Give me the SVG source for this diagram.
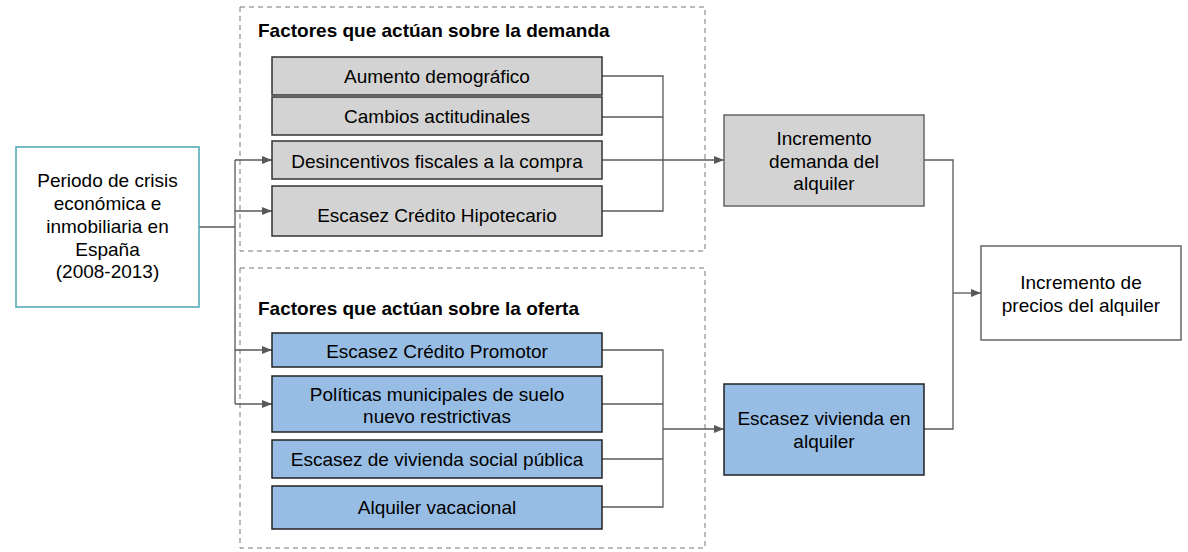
<svg xmlns="http://www.w3.org/2000/svg" width="1188" height="552" viewBox="0 0 1188 552">
<defs>
<marker id="ah" markerWidth="10" markerHeight="8" refX="10" refY="4" orient="auto" markerUnits="userSpaceOnUse"><path d="M0,0 L10,4 L0,8 Z" fill="#595959"/></marker>
<style>
text{font-family:"Liberation Sans",Arial,sans-serif;font-size:19px;fill:#000;text-anchor:middle}
.title{font-weight:bold;font-size:19px;text-anchor:start}
.grp{fill:none;stroke:#777;stroke-width:1;stroke-dasharray:5,4}
.gray{fill:#d3d3d3;stroke:#333;stroke-width:1.5}
.blue{fill:#97bde4;stroke:#222;stroke-width:1.5}
.gbox{fill:#d3d3d3;stroke:#666;stroke-width:1.5}
.wbox{fill:#fff;stroke:#666;stroke-width:1.5}
.tbox{fill:#fff;stroke:#4aa6b3;stroke-width:1.5}
.c{fill:none;stroke:#595959;stroke-width:1.3}
.ca{fill:none;stroke:#595959;stroke-width:1.3;marker-end:url(#ah)}
</style>
</defs>
<rect class="grp" x="240" y="7" width="465" height="244"/>
<rect class="grp" x="240" y="268" width="465" height="280"/>
<text class="title" x="258" y="37">Factores que actúan sobre la demanda</text>
<text class="title" x="258" y="315">Factores que actúan sobre la oferta</text>
<g id="connectors">
<path class="c" d="M199,227 H235 M235,160 V404"/>
<path class="ca" d="M235,160 H272"/>
<path class="ca" d="M235,211 H272"/>
<path class="ca" d="M235,350 H272"/>
<path class="ca" d="M235,404 H272"/>
<path class="c" d="M602,76 H663 V211 H602 M602,117 H663"/>
<path class="ca" d="M602,160 H724"/>
<path class="c" d="M602,350 H663 V507 H602 M602,404 H663 M602,459 H663"/>
<path class="ca" d="M663,429 H724"/>
<path class="c" d="M924,160 H953 V429 H924"/>
<path class="ca" d="M953,293 H981"/>
</g>
<g id="crisis"><rect class="tbox" x="16" y="147" width="183" height="160"/>
<text x="107.5" y="187">Periodo de crisis</text><text x="107.5" y="210">económica e</text><text x="107.5" y="233">inmobiliaria en</text><text x="107.5" y="255.5">España</text><text x="107.5" y="278">(2008-2013)</text></g>
<g id="aumento"><rect class="gray" x="272" y="57" width="330" height="38"/><text x="437" y="83">Aumento demográfico</text></g>
<g id="cambios"><rect class="gray" x="272" y="97" width="330" height="38"/><text x="437" y="123">Cambios actitudinales</text></g>
<g id="desincentivos"><rect class="gray" x="272" y="141" width="330" height="38"/><text x="437" y="168">Desincentivos fiscales a la compra</text></g>
<g id="hipotecario"><rect class="gray" x="272" y="186" width="330" height="50"/><text x="437" y="222">Escasez Crédito Hipotecario</text></g>
<g id="promotor"><rect class="blue" x="272" y="333" width="330" height="34"/><text x="437" y="358">Escasez Crédito Promotor</text></g>
<g id="politicas"><rect class="blue" x="272" y="376" width="330" height="56"/><text x="437" y="401">Políticas municipales de suelo</text><text x="437" y="423">nuevo restrictivas</text></g>
<g id="social"><rect class="blue" x="272" y="440" width="330" height="38"/><text x="437" y="466">Escasez de vivienda social pública</text></g>
<g id="vacacional"><rect class="blue" x="272" y="486" width="330" height="43"/><text x="437" y="514">Alquiler vacacional</text></g>
<g id="demanda"><rect class="gbox" x="724" y="115" width="200" height="91"/><text x="824" y="145">Incremento</text><text x="824" y="167.5">demanda del</text><text x="824" y="190">alquiler</text></g>
<g id="escasez"><rect class="blue" x="724" y="384" width="200" height="91"/><text x="824" y="425">Escasez vivienda en</text><text x="824" y="447.5">alquiler</text></g>
<g id="precios"><rect class="wbox" x="981" y="246" width="200" height="94"/><text x="1081" y="289">Incremento de</text><text x="1081" y="311.5">precios del alquiler</text></g>
</svg>
